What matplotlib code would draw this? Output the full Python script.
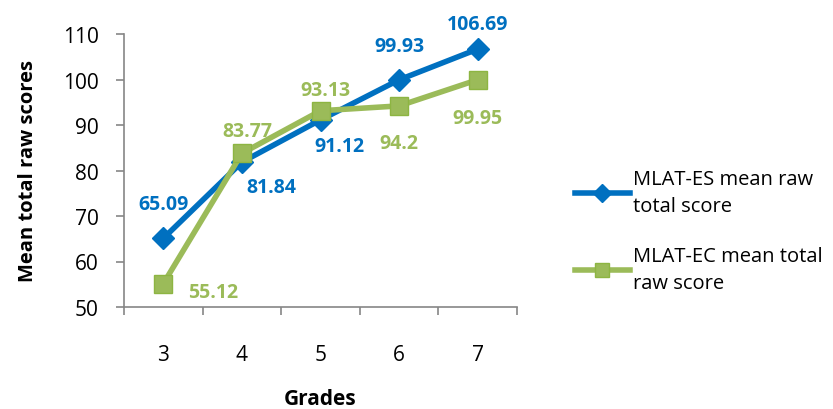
import matplotlib.pyplot as plt
from matplotlib.ticker import FixedLocator, NullFormatter

plt.rcParams['font.family'] = ['Open Sans', 'DejaVu Sans']

grades = [3, 4, 5, 6, 7]
es_scores = [65.09, 81.84, 91.12, 99.93, 106.69]
ec_scores = [55.12, 83.77, 93.13, 94.2, 99.95]
es_label = "MLAT-ES mean raw\ntotal score"
ec_label = "MLAT-EC mean total\nraw score"

# label offsets (pixels) for each point
es_offsets = [(0, 34), (29, -25), (19, -26), (0, 34), (0, 25)]
ec_offsets = [(50, -8), (5, 22), (5, 21), (0, -37), (0, -38)]

blue = "#0070C0"
green = "#9BBB59"
grey = "#868686"

fig = plt.figure(figsize=(8.33, 4.10), dpi=100)
ax = fig.add_axes([124 / 833, 1 - 308 / 410, 393 / 833, 273 / 410])

ax.plot(grades, es_scores, color=blue, lw=4, marker="D", ms=11,
        label=es_label, zorder=3)
ax.plot(grades, ec_scores, color=green, lw=4, marker="s", ms=13,
        markeredgecolor="#8DB542", label=ec_label, zorder=4)

for x, y, (dx, dy) in zip(grades, es_scores, es_offsets):
    ax.annotate(f"{y:g}", (x, y), xytext=(dx, dy), textcoords="offset pixels",
                ha="center", va="center", color=blue, fontsize=14,
                fontweight="bold")
for x, y, (dx, dy) in zip(grades, ec_scores, ec_offsets):
    ax.annotate(f"{y:g}", (x, y), xytext=(dx, dy), textcoords="offset pixels",
                ha="center", va="center", color=green, fontsize=14,
                fontweight="bold")

ax.set_xlim(2.5, 7.5)
ax.set_ylim(50, 110)
ax.set_yticks(range(50, 111, 10))
ax.set_xticks(grades)
ax.xaxis.set_minor_locator(FixedLocator([2.5, 3.5, 4.5, 5.5, 6.5, 7.5]))
ax.xaxis.set_minor_formatter(NullFormatter())
ax.tick_params(axis="x", which="major", length=0, pad=27, labelsize=15)
ax.tick_params(axis="x", which="minor", length=6, color=grey, width=1.2)
ax.tick_params(axis="y", length=6, color=grey, width=1.2, labelsize=15, pad=12)

for side in ["top", "right"]:
    ax.spines[side].set_visible(False)
for side in ["left", "bottom"]:
    ax.spines[side].set_color(grey)
    ax.spines[side].set_linewidth(1.2)

ax.set_xlabel("Grades", fontsize=15, fontweight="bold", labelpad=16)
ax.set_ylabel("Mean total raw scores", fontsize=14.5, fontweight="bold",
              labelpad=18)

leg = fig.legend(loc="center left", bbox_to_anchor=(557 / 833, 1 - 232 / 410),
                 frameon=False, fontsize=14.5, handlelength=2.7,
                 handletextpad=0.15, labelspacing=1.5, markerscale=0.8)
for t in leg.get_texts():
    t.set_linespacing(1.45)

fig.savefig("out.png", dpi=100)
